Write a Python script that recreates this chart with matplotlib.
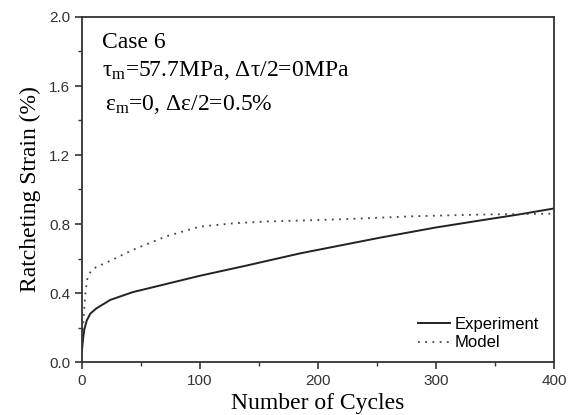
import matplotlib
matplotlib.use("Agg")
import matplotlib.pyplot as plt
from matplotlib.ticker import MultipleLocator

# Data
exp_cycles = [0, 1, 2, 4, 7, 12, 24, 43, 70, 100, 140, 185, 252, 300, 337, 370, 400]
exp_strain = [0.07, 0.14, 0.19, 0.24, 0.28, 0.31, 0.36, 0.405, 0.45, 0.50, 0.56, 0.63, 0.72, 0.78, 0.82, 0.855, 0.89]

model_cycles = [0, 1, 2, 3, 4.5, 7, 12, 25, 43, 72, 100, 130, 157, 185, 230, 281, 340, 400]
model_strain = [0.10, 0.22, 0.32, 0.41, 0.48, 0.52, 0.55, 0.59, 0.65, 0.73, 0.785, 0.805, 0.815, 0.82, 0.83, 0.845, 0.855, 0.86]

xticks = [0, 100, 200, 300, 400]
yticks = [0.0, 0.4, 0.8, 1.2, 1.6, 2.0]

serif = "Liberation Serif"
sans = "Liberation Sans"
plt.rcParams["mathtext.fontset"] = "custom"
plt.rcParams["mathtext.rm"] = serif
plt.rcParams["mathtext.it"] = serif

fig = plt.figure(figsize=(5.74, 4.15), dpi=100)
ax = fig.add_axes([82 / 574, 1 - 362 / 415, (554 - 82) / 574, (362 - 17) / 415])

ax.plot(exp_cycles, exp_strain, color="#222222", lw=1.4, label="Experiment")
ax.plot(model_cycles, model_strain, color="#444444", lw=1.3, linestyle=(0, (1, 3)), label="Model")

ax.set_xlim(0, 400)
ax.set_ylim(0, 2.0)
ax.set_xticks(xticks)
ax.set_yticks(yticks)
ax.xaxis.set_minor_locator(MultipleLocator(50))
ax.yaxis.set_minor_locator(MultipleLocator(0.2))
ax.tick_params(which="both", direction="out", colors="#333333", labelsize=11)
ax.tick_params(which="major", length=5, width=1.2)
ax.tick_params(which="minor", length=3, width=1.0)
ax.set_yticklabels(["%.1f" % v for v in yticks])
for lab in ax.get_xticklabels() + ax.get_yticklabels():
    lab.set_fontfamily(sans)
for sp in ax.spines.values():
    sp.set_color("#333333")
    sp.set_linewidth(1.3)

ax.set_xlabel("Number of Cycles", fontfamily=serif, fontsize=17, labelpad=4)
ax.set_ylabel("Ratcheting Strain (%)", fontfamily=serif, fontsize=17, labelpad=6)

ax.text(0.042, 0.925, "Case 6", transform=ax.transAxes, fontfamily=serif, fontsize=17, va="center")
ax.text(0.042, 0.846, r"$\mathrm{\tau_m}$=57.7MPa, $\Delta\tau$/2=0MPa", transform=ax.transAxes,
        fontfamily=serif, fontsize=17, va="center")
ax.text(0.049, 0.745, r"$\mathrm{\epsilon_m}$=0, $\Delta\epsilon$/2=0.5%", transform=ax.transAxes,
        fontfamily=serif, fontsize=17, va="center")

leg = ax.legend(loc="lower right", bbox_to_anchor=(1.0, -0.01), frameon=False,
                prop={"family": sans, "size": 12}, handlelength=1.9, handletextpad=0.3,
                labelspacing=0.2)

fig.savefig("out.png", dpi=100)
